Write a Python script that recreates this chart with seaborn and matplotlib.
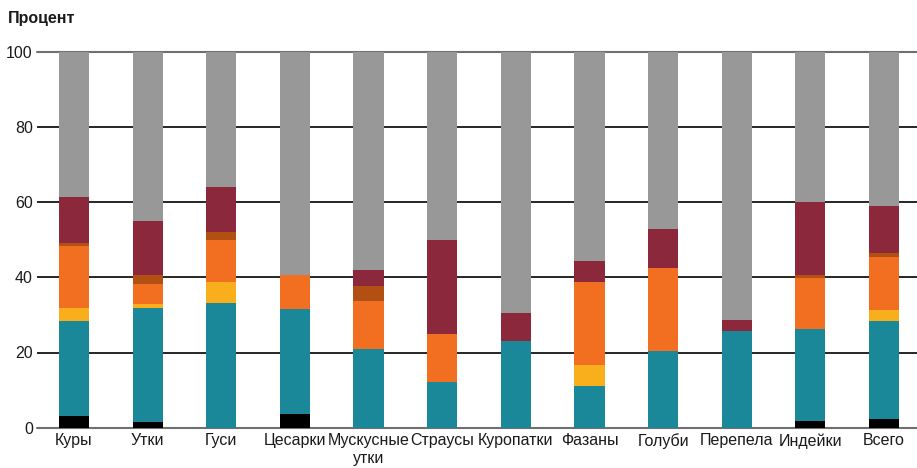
import numpy as np
import pandas as pd
import matplotlib
matplotlib.use("Agg")
import matplotlib.pyplot as plt
import seaborn as sns

# --- Data (percent shares, bottom to top) ---
categories = ["Куры", "Утки", "Гуси", "Цесарки", "Мускусные\nутки", "Страусы",
              "Куропатки", "Фазаны", "Голуби", "Перепела", "Индейки", "Всего"]
black = [3.1, 1.5, 0.0, 3.6, 0.0, 0.0, 0.0, 0.0, 0.0, 0.0, 1.8, 2.3]
teal = [25.3, 30.3, 33.2, 28.0, 20.9, 12.1, 23.0, 11.1, 20.4, 25.7, 24.4, 26.1]
yellow = [3.4, 1.1, 5.5, 0.0, 0.0, 0.0, 0.0, 5.6, 0.0, 0.0, 0.0, 2.9]
orange = [16.5, 5.3, 11.2, 9.0, 12.8, 12.8, 0.0, 22.0, 22.1, 0.0, 13.6, 14.1]
dark_orange = [0.8, 2.4, 2.2, 0.0, 4.0, 0.0, 0.0, 0.0, 0.0, 0.0, 0.8, 1.1]
maroon = [12.2, 14.4, 11.9, 0.0, 4.2, 25.0, 7.5, 5.6, 10.3, 2.9, 19.4, 12.5]
gray = [38.7, 45.0, 36.0, 59.4, 58.1, 50.1, 69.5, 55.7, 47.2, 71.4, 40.0, 41.0]

series = [
    ("black", black, "#000000"),
    ("teal", teal, "#1a8899"),
    ("yellow", yellow, "#f9ae1b"),
    ("orange", orange, "#f26f22"),
    ("dark_orange", dark_orange, "#b24f13"),
    ("maroon", maroon, "#8b283c"),
    ("gray", gray, "#979897"),
]

df = pd.DataFrame({name: vals for name, vals, _ in series}, index=categories)
cum = df.cumsum(axis=1)

sns.set_style("white")
plt.rcParams["font.family"] = ["Liberation Sans", "DejaVu Sans"]

fig = plt.figure(figsize=(9.17, 4.68), dpi=100)
ax = fig.add_axes([37 / 917, 1 - 427.7 / 468, 1 - 37 / 917, (427.7 - 51.7) / 468])

# stacked bars: draw cumulative totals from the top layer down
for name, _, color in reversed(series):
    sns.barplot(x=categories, y=cum[name].values, color=color, saturation=1,
                width=0.41, linewidth=0, ax=ax, zorder=2)

for y in [20, 40, 60, 80]:
    ax.axhline(y, color="#262626", lw=1.4, zorder=1)
for y in [0, 100]:
    ax.axhline(y, color="#707070", lw=1.5, zorder=1, clip_on=False)

ax.set_ylim(0, 100)
ax.set_xlim(-0.502, 11.448)
ax.set_yticks([0, 20, 40, 60, 80, 100])
ax.tick_params(axis="y", length=0, pad=3, labelsize=11.5, labelcolor="#1a1a1a")
ax.tick_params(axis="x", length=0, pad=4, labelsize=11.5, labelcolor="#1a1a1a")
for s in ax.spines.values():
    s.set_visible(False)
ax.set_xlabel("")
ax.set_ylabel("")

fig.text(8 / 917, 1 - 19 / 468, "Процент", fontsize=11.5, fontweight="bold",
         va="center", ha="left", color="#1a1a1a")

fig.savefig("out.png", dpi=100)
